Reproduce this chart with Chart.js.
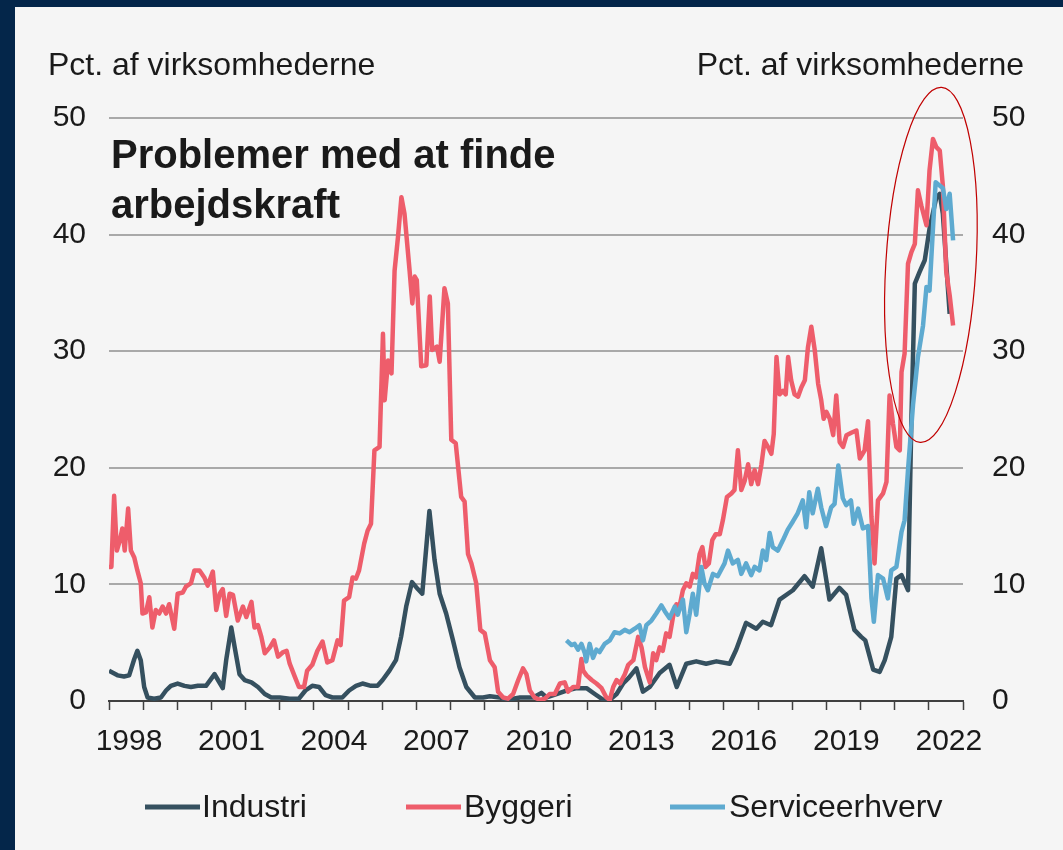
<!DOCTYPE html>
<html>
<head>
<meta charset="utf-8">
<script src="https://cdn.jsdelivr.net/npm/chart.js@4.4.0/dist/chart.umd.min.js"></script>
<style>
    html, body { margin: 0; padding: 0; background: #04264a; }
    #panel { position: absolute; left: 15px; top: 7px; width: 1048px; height: 843px; background: #f5f5f5; }
</style>
</head>
<body>
<div id="panel"><canvas id="chart" width="1048" height="843"></canvas></div>
<script>
// Tekster
const titleLines = ['Problemer med at finde', 'arbejdskraft'];
const axisTitle = 'Pct. af virksomhederne';
const yTicks = [0, 10, 20, 30, 40, 50];
const xLabelYears = [1998, 2001, 2004, 2007, 2010, 2013, 2016, 2019, 2022];

// Industri (tid i år, værdi i pct.)
const industriTid = [1998.0, 1998.25, 1998.44, 1998.59, 1998.74, 1998.83, 1998.93, 1999.03, 1999.13, 1999.32,
    1999.52, 1999.67, 1999.81, 2000.01, 2000.21, 2000.40, 2000.60, 2000.84, 2000.99, 2001.09,
    2001.19, 2001.33, 2001.43, 2001.58, 2001.68, 2001.82, 2001.97, 2002.17, 2002.36, 2002.56,
    2002.75, 2003.00, 2003.29, 2003.56, 2003.75, 2003.95, 2004.15, 2004.34, 2004.54, 2004.83,
    2005.03, 2005.23, 2005.42, 2005.67, 2005.86, 2006.01, 2006.21, 2006.40, 2006.55, 2006.70,
    2006.87, 2007.04, 2007.17, 2007.38, 2007.53, 2007.68, 2007.87, 2008.07, 2008.26, 2008.46,
    2008.71, 2008.95, 2009.15, 2009.44, 2009.63, 2009.83, 2010.03, 2010.22, 2010.42, 2010.66,
    2010.81, 2011.10, 2011.39, 2011.69, 2011.98, 2012.22, 2012.47, 2012.66, 2012.86, 2013.05,
    2013.22, 2013.44, 2013.63, 2013.83, 2014.12, 2014.41, 2014.62, 2014.90, 2015.19, 2015.48,
    2015.78, 2016.17, 2016.36, 2016.65, 2016.95, 2017.14, 2017.38, 2017.63, 2018.02, 2018.36,
    2018.60, 2018.85, 2019.09, 2019.38, 2019.58, 2019.82, 2020.02, 2020.14, 2020.37, 2020.56,
    2020.71, 2020.90, 2021.05, 2021.20, 2021.39, 2021.49, 2021.59, 2021.73, 2021.88, 2022.02,
    2022.22, 2022.32, 2022.41, 2022.51, 2022.61];
const industri = [2.6, 2.2, 2.1, 2.2, 3.6, 4.3, 3.5, 1.2, 0.3, 0.2,
    0.3, 0.9, 1.3, 1.5, 1.3, 1.2, 1.3, 1.3, 1.9, 2.3,
    1.8, 1.1, 3.5, 6.3, 4.6, 2.3, 1.8, 1.6, 1.2, 0.6,
    0.3, 0.3, 0.2, 0.2, 0.9, 1.3, 1.2, 0.5, 0.3, 0.3,
    0.9, 1.3, 1.5, 1.3, 1.3, 1.8, 2.6, 3.5, 5.5, 8.1,
    10.2, 9.6, 9.2, 16.3, 12.1, 9.2, 7.5, 5.2, 2.9, 1.2,
    0.3, 0.3, 0.4, 0.3, 0.1, 0.2, 0.3, 0.3, 0.3, 0.7,
    0.3, 0.6, 0.9, 1.1, 1.1, 0.6, 0.1, 0.1, 0.6, 1.5,
    2.0, 2.8, 0.8, 1.2, 2.4, 3.1, 1.2, 3.2, 3.4, 3.2,
    3.4, 3.2, 4.4, 6.7, 6.2, 6.8, 6.5, 8.7, 9.5, 10.7,
    9.8, 13.1, 8.7, 9.7, 9.1, 6.1, 5.5, 5.2, 2.7, 2.5,
    3.5, 5.5, 10.5, 10.8, 9.5, 24.2, 35.8, 36.8, 37.8, 40.5,
    43.2, 43.5, 41.8, 37.5, 33.2];

// Byggeri
const byggeriTid = [1998.0, 1998.07, 1998.15, 1998.23, 1998.32, 1998.39, 1998.46, 1998.56, 1998.64, 1998.74,
    1998.83, 1998.93, 1998.98, 1999.08, 1999.18, 1999.27, 1999.37, 1999.47, 1999.57, 1999.67,
    1999.76, 1999.91, 2000.01, 2000.16, 2000.25, 2000.40, 2000.50, 2000.65, 2000.79, 2000.89,
    2001.04, 2001.14, 2001.24, 2001.33, 2001.43, 2001.53, 2001.63, 2001.77, 2001.92, 2002.02,
    2002.17, 2002.26, 2002.36, 2002.46, 2002.56, 2002.71, 2002.83, 2002.95, 2003.10, 2003.20,
    2003.29, 2003.45, 2003.56, 2003.71, 2003.80, 2003.95, 2004.10, 2004.25, 2004.39, 2004.54,
    2004.69, 2004.78, 2004.88, 2005.03, 2005.13, 2005.23, 2005.32, 2005.47, 2005.57, 2005.67,
    2005.77, 2005.92, 2006.02, 2006.07, 2006.17, 2006.27, 2006.36, 2006.46, 2006.56, 2006.65,
    2006.80, 2006.88, 2006.95, 2007.01, 2007.14, 2007.29, 2007.39, 2007.46, 2007.60, 2007.68,
    2007.82, 2007.92, 2008.02, 2008.15, 2008.31, 2008.41, 2008.51, 2008.61, 2008.75, 2008.87,
    2009.00, 2009.15, 2009.29, 2009.39, 2009.54, 2009.68, 2009.83, 2009.98, 2010.12, 2010.22,
    2010.32, 2010.46, 2010.61, 2010.76, 2010.90, 2011.05, 2011.20, 2011.34, 2011.44, 2011.59,
    2011.73, 2011.83, 2011.88, 2011.98, 2012.13, 2012.27, 2012.42, 2012.56, 2012.66, 2012.76,
    2012.86, 2012.96, 2013.10, 2013.20, 2013.35, 2013.49, 2013.59, 2013.69, 2013.83, 2013.93,
    2014.02, 2014.12, 2014.21, 2014.31, 2014.41, 2014.51, 2014.61, 2014.70, 2014.80, 2014.90,
    2015.00, 2015.09, 2015.19, 2015.29, 2015.37, 2015.46, 2015.56, 2015.66, 2015.76, 2015.88,
    2015.97, 2016.09, 2016.22, 2016.31, 2016.41, 2016.51, 2016.61, 2016.71, 2016.80, 2016.90,
    2017.00, 2017.10, 2017.19, 2017.29, 2017.39, 2017.46, 2017.54, 2017.63, 2017.73, 2017.81,
    2017.88, 2017.97, 2018.07, 2018.17, 2018.27, 2018.37, 2018.46, 2018.56, 2018.66, 2018.76,
    2018.85, 2018.92, 2019.00, 2019.10, 2019.20, 2019.29, 2019.39, 2019.49, 2019.59, 2019.73,
    2019.88, 2019.98, 2020.12, 2020.22, 2020.32, 2020.41, 2020.51, 2020.66, 2020.76, 2020.85,
    2020.95, 2021.05, 2021.15, 2021.20, 2021.29, 2021.39, 2021.49, 2021.59, 2021.68, 2021.78,
    2021.93, 2022.02, 2022.12, 2022.22, 2022.32, 2022.41, 2022.51, 2022.61, 2022.71];
const byggeri = [11.5, 11.5, 17.6, 12.9, 13.8, 14.8, 12.9, 16.5, 12.9, 12.3,
    11.2, 10.1, 7.5, 7.6, 8.9, 6.3, 7.8, 7.5, 8.1, 7.5,
    8.3, 6.2, 9.2, 9.3, 9.8, 10.1, 11.2, 11.2, 10.6, 9.9,
    11.1, 7.8, 9.2, 9.6, 7.3, 9.2, 9.1, 6.9, 8.1, 7.2,
    8.5, 6.3, 6.5, 5.5, 4.1, 4.6, 5.2, 3.8, 4.2, 4.3,
    3.2, 2.0, 1.2, 1.2, 2.6, 3.1, 4.3, 5.1, 3.3, 3.5,
    5.2, 4.8, 8.6, 8.9, 10.6, 10.5, 11.2, 13.5, 14.6, 15.2,
    21.5, 21.8, 31.5, 25.8, 29.2, 28.1, 36.9, 39.8, 43.2, 41.8,
    36.9, 34.1, 36.4, 36.1, 28.7, 28.8, 34.7, 30.1, 30.4, 29.1,
    35.4, 34.1, 22.4, 22.1, 17.5, 17.1, 12.6, 11.8, 10.1, 6.1,
    5.8, 3.5, 2.9, 0.8, 0.3, 0.2, 0.6, 1.8, 2.8, 2.3,
    0.9, 0.3, 0.1, 0.2, 0.6, 0.6, 1.5, 1.6, 0.8, 1.2,
    1.2, 3.6, 2.6, 2.2, 1.8, 1.5, 1.1, 0.3, 0.1, 1.2,
    1.8, 1.5, 2.3, 3.1, 3.5, 5.5, 4.6, 2.9, 1.6, 4.1,
    3.5, 4.6, 4.3, 5.8, 5.5, 7.2, 8.3, 8.1, 9.5, 10.1,
    9.8, 10.9, 10.6, 12.6, 13.2, 11.5, 11.8, 13.8, 14.3, 14.3,
    15.5, 17.5, 17.8, 18.1, 21.5, 18.1, 18.9, 20.3, 18.6, 19.8,
    18.6, 20.3, 22.3, 21.8, 21.2, 22.9, 29.5, 26.3, 26.6, 26.3,
    29.5, 27.5, 26.3, 26.1, 26.9, 27.5, 30.3, 32.1, 30.1, 27.2,
    25.8, 24.2, 24.8, 24.2, 22.8, 26.2, 22.2, 21.8, 22.8, 23.0,
    23.2, 20.8, 21.5, 24.0, 15.8, 11.8, 17.2, 17.8, 18.8, 26.2,
    23.8, 21.8, 21.5, 28.2, 29.8, 37.5, 38.5, 39.2, 43.8, 42.5,
    40.8, 45.5, 48.2, 47.5, 47.2, 44.2, 36.8, 34.8, 32.2];

// Serviceerhverv
const serviceTid = [2011.39, 2011.54, 2011.63, 2011.73, 2011.83, 2011.93, 2011.97, 2012.07, 2012.17, 2012.27,
    2012.36, 2012.51, 2012.66, 2012.80, 2012.95, 2013.10, 2013.24, 2013.39, 2013.53, 2013.63,
    2013.73, 2013.88, 2014.02, 2014.17, 2014.27, 2014.41, 2014.56, 2014.65, 2014.80, 2014.90,
    2015.00, 2015.09, 2015.19, 2015.34, 2015.43, 2015.53, 2015.68, 2015.82, 2016.02, 2016.12,
    2016.26, 2016.41, 2016.51, 2016.65, 2016.80, 2016.90, 2017.04, 2017.14, 2017.24, 2017.34,
    2017.43, 2017.58, 2017.73, 2017.87, 2018.02, 2018.16, 2018.31, 2018.41, 2018.50, 2018.60,
    2018.75, 2018.85, 2018.99, 2019.14, 2019.24, 2019.35, 2019.48, 2019.58, 2019.72, 2019.80,
    2019.93, 2020.07, 2020.22, 2020.32, 2020.39, 2020.51, 2020.66, 2020.80, 2020.90, 2021.05,
    2021.20, 2021.29, 2021.39, 2021.54, 2021.68, 2021.83, 2021.93, 2022.02, 2022.12, 2022.20,
    2022.32, 2022.41, 2022.51, 2022.61, 2022.71];
const service = [5.2, 4.8, 4.9, 4.4, 4.9, 4.1, 3.4, 4.9, 3.7, 4.4,
    4.2, 4.9, 5.2, 5.9, 5.8, 6.1, 5.9, 6.2, 6.5, 5.2,
    6.5, 6.9, 7.5, 8.2, 7.7, 7.1, 8.1, 7.4, 8.7, 5.9,
    7.5, 9.2, 7.4, 11.5, 10.1, 9.5, 10.9, 10.7, 11.8, 12.9,
    11.8, 12.1, 10.9, 11.8, 10.8, 11.5, 11.2, 12.9, 12.1, 14.4,
    13.2, 12.9, 13.8, 14.7, 15.4, 16.1, 17.2, 14.9, 17.9, 16.1,
    18.2, 16.6, 15.0, 16.6, 16.9, 20.2, 17.4, 16.8, 17.2, 15.2,
    16.5, 14.8, 15.0, 8.8, 6.8, 10.8, 10.5, 8.8, 11.2, 11.5,
    14.5, 15.5, 19.8, 25.5, 29.5, 32.2, 35.5, 35.2, 40.5, 44.5,
    44.2, 44.0, 42.2, 43.5, 39.5];

const textColor = '#1a1a1a';
const fontFamily = '"Liberation Sans", Arial, Helvetica, sans-serif';

function toPoints(times, values) {
    return times.map((t, i) => ({ x: t, y: values[i] }));
}

// Titel, aksetekster, markering og forklaring
const annotations = {
    id: 'annotations',
    afterDraw(chart) {
        const { ctx, scales: { x, y } } = chart;
        ctx.save();
        ctx.fillStyle = textColor;
        ctx.textBaseline = 'alphabetic';

        ctx.font = '32px ' + fontFamily;
        ctx.textAlign = 'left';
        ctx.fillText(axisTitle, 33, 68);
        ctx.textAlign = 'right';
        ctx.fillText(axisTitle, 1009, 68);

        ctx.textAlign = 'left';
        ctx.font = 'bold 40px ' + fontFamily;
        ctx.fillText(titleLines[0], 96, 161);
        ctx.fillText(titleLines[1], 96, 211);

        // rød ellipse om 2021-2022
        const cx = x.getPixelForValue(2022.06);
        const cy = y.getPixelForValue(37.4);
        const rx = x.getPixelForValue(2022.06 + 1.32) - cx;
        const ry = cy - y.getPixelForValue(37.4 + 15.25);
        ctx.beginPath();
        ctx.ellipse(cx, cy, rx, ry, 0.06, 0, Math.PI * 2);
        ctx.strokeStyle = '#c00000';
        ctx.lineWidth = 1.2;
        ctx.stroke();

        // forklaring
        const legendItems = [
            { ds: 0, lineX: 130, textX: 187 },
            { ds: 1, lineX: 391, textX: 449 },
            { ds: 2, lineX: 655, textX: 714 }
        ];
        const legendY = 800;
        ctx.font = '32px ' + fontFamily;
        ctx.textBaseline = 'middle';
        legendItems.forEach(item => {
            const ds = chart.data.datasets[item.ds];
            ctx.beginPath();
            ctx.moveTo(item.lineX, legendY);
            ctx.lineTo(item.lineX + 55, legendY);
            ctx.strokeStyle = ds.borderColor;
            ctx.lineWidth = 5;
            ctx.stroke();
            ctx.fillStyle = textColor;
            ctx.fillText(ds.label, item.textX, legendY + 1);
        });
        ctx.restore();
    }
};

const lineDefaults = {
    borderWidth: 4.5,
    pointRadius: 0,
    tension: 0,
    fill: false,
    borderJoinStyle: 'round'
};

new Chart(document.getElementById('chart'), {
    type: 'line',
    data: {
        datasets: [
            { label: 'Industri', data: toPoints(industriTid, industri), borderColor: '#35505f', order: 2, ...lineDefaults },
            { label: 'Byggeri', data: toPoints(byggeriTid, byggeri), borderColor: '#ee5d6b', order: 1, ...lineDefaults },
            { label: 'Serviceerhverv', data: toPoints(serviceTid, service), borderColor: '#5eaad0', order: 0, ...lineDefaults }
        ]
    },
    options: {
        responsive: false,
        animation: false,
        layout: { padding: { top: 111, bottom: 81, left: 0, right: 0 } },
        plugins: {
            legend: { display: false },
            tooltip: { enabled: false }
        },
        scales: {
            x: {
                type: 'linear',
                min: 1998,
                max: 2023,
                afterFit: (scale) => { scale.height = 68; },
                ticks: {
                    stepSize: 1,
                    autoSkip: false,
                    maxRotation: 0,
                    labelOffset: 20,
                    padding: 14,
                    color: textColor,
                    font: { family: fontFamily, size: 30 },
                    callback: (v) => xLabelYears.includes(v) ? String(v) : ''
                },
                grid: {
                    drawOnChartArea: false,
                    drawTicks: true,
                    tickLength: 9,
                    tickColor: '#404040',
                    tickWidth: 1.5
                },
                border: { display: true, color: '#404040', width: 2 }
            },
            y: {
                position: 'left',
                min: 0,
                max: 50,
                afterFit: (scale) => { scale.width = 94; },
                afterBuildTicks: (scale) => { scale.ticks = yTicks.map(v => ({ value: v })); },
                ticks: {
                    padding: 23,
                    color: textColor,
                    font: { family: fontFamily, size: 30 }
                },
                grid: { color: '#a9a9a9', lineWidth: 2, drawTicks: false },
                border: { display: false }
            },
            y2: {
                position: 'right',
                min: 0,
                max: 50,
                afterFit: (scale) => { scale.width = 100; },
                afterBuildTicks: (scale) => { scale.ticks = yTicks.map(v => ({ value: v })); },
                ticks: {
                    padding: 29,
                    color: textColor,
                    font: { family: fontFamily, size: 30 }
                },
                grid: { display: false, drawTicks: false },
                border: { display: false }
            }
        }
    },
    plugins: [annotations]
});
</script>
</body>
</html>
